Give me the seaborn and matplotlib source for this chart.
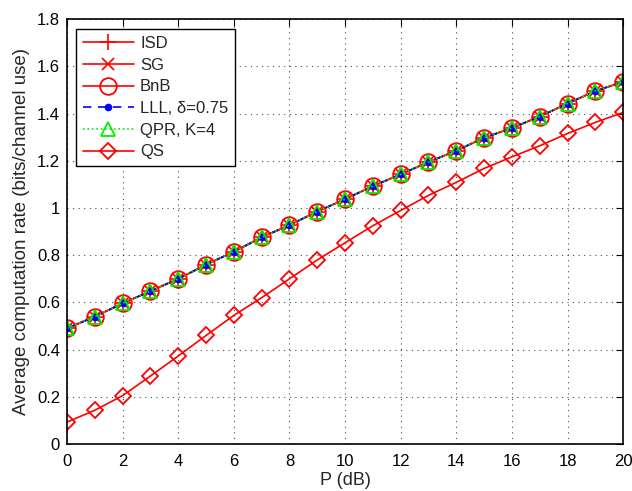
import numpy as np
import pandas as pd
import seaborn as sns
import matplotlib
matplotlib.use("Agg")
import matplotlib.pyplot as plt

P_dB = [0, 1, 2, 3, 4, 5, 6, 7, 8, 9, 10, 11, 12, 13, 14, 15, 16, 17, 18, 19, 20]
rate_opt = [0.490, 0.540, 0.596, 0.648, 0.700, 0.760, 0.815, 0.876, 0.928, 0.985, 1.038,
            1.093, 1.143, 1.195, 1.243, 1.298, 1.339, 1.388, 1.443, 1.496, 1.535]
rate_isd = rate_opt
rate_sg = rate_opt
rate_bnb = rate_opt
rate_lll = rate_opt
rate_qpr = rate_opt
rate_qs = [0.093, 0.143, 0.205, 0.288, 0.373, 0.460, 0.545, 0.620, 0.700, 0.780, 0.853,
           0.925, 0.990, 1.054, 1.109, 1.168, 1.217, 1.264, 1.316, 1.363, 1.405]

sns.set_style("white")
plt.rcParams['font.family'] = ['Liberation Sans', 'DejaVu Sans']
plt.rcParams['mathtext.fontset'] = 'dejavusans'

fig = plt.figure(figsize=(6.32, 4.91), dpi=100)
ax = fig.add_axes([0.106, 0.0957, 0.880, 0.865])

series = [
    ("ISD", rate_isd, dict(color='red', linestyle='-', marker='+', markersize=11,
                           markeredgecolor='red', markeredgewidth=1.2)),
    ("SG", rate_sg, dict(color='red', linestyle='-', marker='x', markersize=8.5,
                         markeredgecolor='red', markeredgewidth=1.2)),
    ("BnB", rate_bnb, dict(color='red', linestyle='-', marker='o', markersize=12, markerfacecolor='none',
                           markeredgecolor='red', markeredgewidth=1.3)),
    ("LLL, δ=0.75", rate_lll, dict(color='blue', linestyle=(0, (5, 4)), marker='o', markersize=4.5,
                                   markerfacecolor='blue', markeredgecolor='blue', markeredgewidth=1.0)),
    ("QPR, K=4", rate_qpr, dict(color='#00ee00', linestyle=':', marker='^', markersize=10, markerfacecolor='none',
                                markeredgecolor='#00ee00', markeredgewidth=1.3)),
    ("QS", rate_qs, dict(color='red', linestyle='-', marker='D', markersize=8.5, markerfacecolor='none',
                         markeredgecolor='red', markeredgewidth=1.3)),
]

handles = []
for name, vals, style in series:
    df = pd.DataFrame({"P": P_dB, "rate": vals})
    n_before = len(ax.lines)
    sns.lineplot(data=df, x="P", y="rate", ax=ax, linewidth=1.2, legend=False)
    line = ax.lines[n_before]
    line.set(**style)
    line.set_label(name)
    handles.append(line)

ax.set_xlim(0, 20)
ax.set_ylim(0, 1.8)
ax.set_xticks(np.arange(0, 21, 2))
ax.set_yticks(np.arange(0, 1.81, 0.2))
ax.set_yticklabels(['0', '0.2', '0.4', '0.6', '0.8', '1', '1.2', '1.4', '1.6', '1.8'])
ax.grid(True, color='black', linestyle=(0, (1, 4)), linewidth=0.8, alpha=0.7)
ax.tick_params(direction='in', length=5, width=0.8, labelsize=12, top=True, right=True,
               colors='black', pad=5)
ax.tick_params(axis='x', pad=7)
for s in ax.spines.values():
    s.set_color('black')
    s.set_linewidth(1.2)
ax.set_xlabel("P (dB)", fontsize=13, labelpad=2)
ax.set_ylabel("Average computation rate (bits/channel use)", fontsize=13.5, labelpad=5)

leg = ax.legend(handles=handles, loc='upper left', bbox_to_anchor=(0.016, 0.976), fontsize=12, frameon=True,
                fancybox=False, framealpha=1, edgecolor='black', borderpad=0.4,
                labelspacing=0.4, handlelength=3.1, handletextpad=0.35, borderaxespad=0.0)
leg.get_frame().set_linewidth(1.0)

fig.savefig("out.png", dpi=100)
